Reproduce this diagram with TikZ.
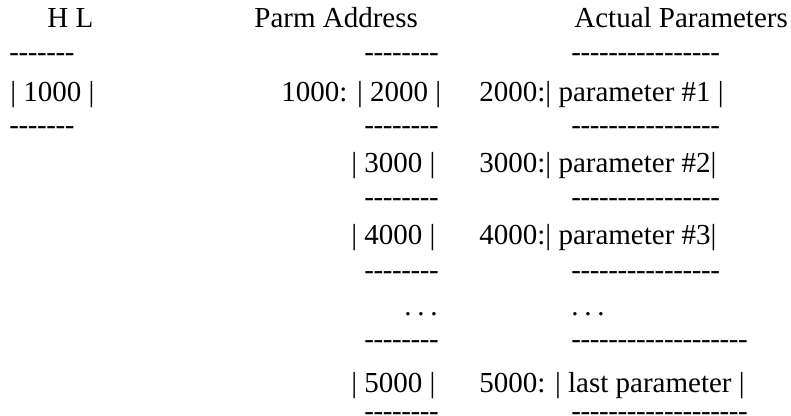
\documentclass[tikz,border=0pt]{standalone}
\usepackage{fontspec}
\setmainfont{Liberation Serif}
\newcommand\dashrow[1]{\foreach \i in {1,...,#1}{-\kern-0.2pt}}
\begin{document}
\begin{tikzpicture}[x=0.5pt,y=-0.5pt,
	txt/.style={anchor=base west,inner sep=0pt,font=\fontsize{14.5}{17}\selectfont}]
	\useasboundingbox (0,0) rectangle (791,416);
	% headings
	\node[txt] (hl) at (47,28) {H L};
	\node[txt] (parm) at (254,28) {Parm Address};
	\node[txt] (actual) at (574,28) {Actual Parameters};

	% the H L pair
	\node[txt] (hltop) at (9,62) {\dashrow{7}};
	\node[txt] (hlcell) at (10,102) {| 1000 |};
	\node[txt] (hlbot) at (9,135) {\dashrow{7}};

	% dash rows of the two tables
	\foreach \y/\n/\k in {62/a/16,135/b/16,207/c/16,279/d/16,349/e/19,420/f/19}{
		\node[txt] (pd\n) at (364,\y) {\dashrow{8}};
		\node[txt] (ad\n) at (571,\y) {\dashrow{\k}};
	}

	% parm address cells
	\node[txt] (p2000) at (281,102) {1000: | 2000 |};
	\foreach \y/\v in {173/3000,245/4000,392/5000}
		\node[txt] (p\v) at (351,\y) {| \v\ |};
	\node[txt] (pdots) at (404,315) {.\hspace{.2em}.\hspace{.2em}.};

	% actual parameters
	\node[txt] (a1) at (479,102) {2000:| parameter \#1 |};
	\node[txt] (a2) at (479,173) {3000:| parameter \#2|};
	\node[txt] (a3) at (479,245) {4000:| parameter \#3|};
	\node[txt] (adots) at (571,315) {.\hspace{.2em}.\hspace{.2em}.};
	\node[txt] (alast) at (479,392) {5000: | last parameter |};
\end{tikzpicture}
\end{document}
